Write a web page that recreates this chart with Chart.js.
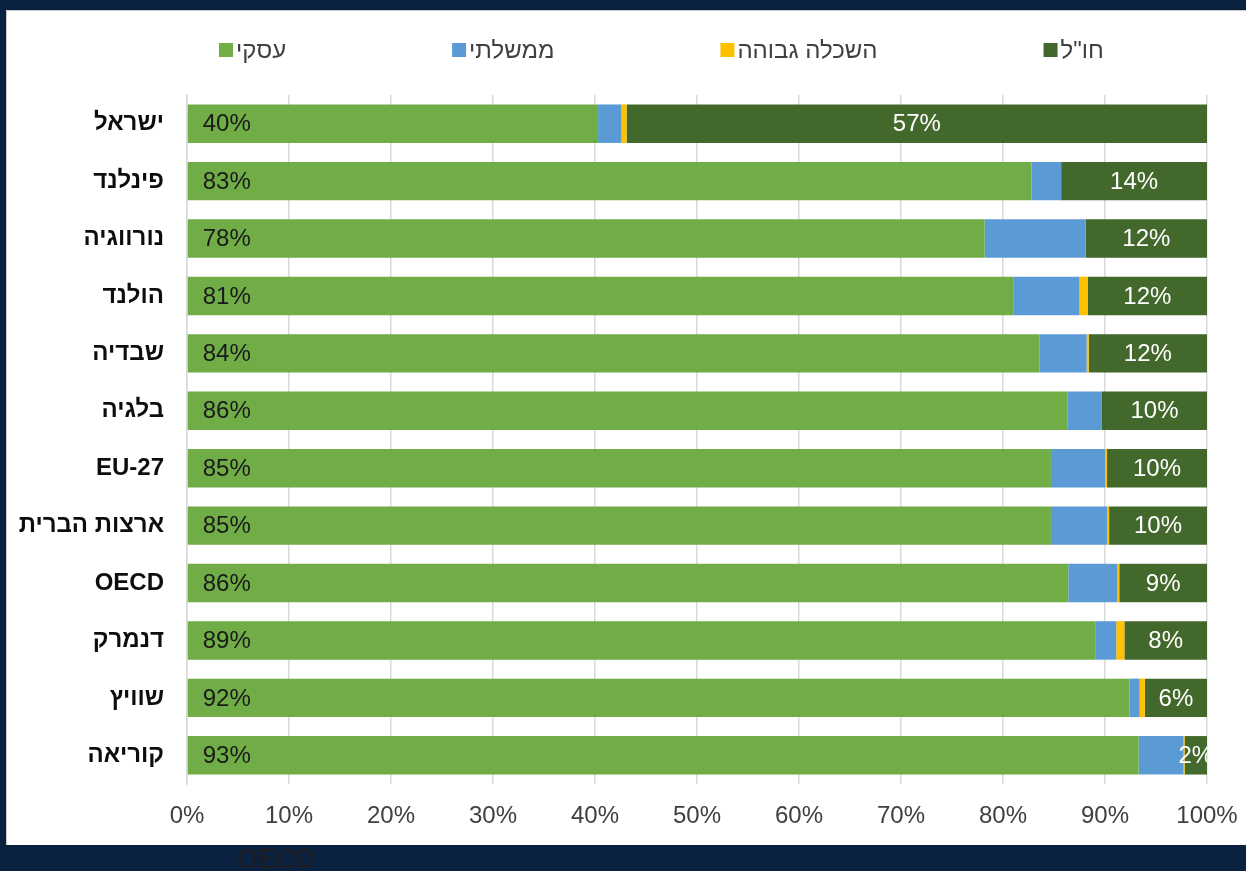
<!DOCTYPE html>
<html lang="he">
<head>
<meta charset="utf-8">
<script src="https://cdn.jsdelivr.net/npm/chart.js@4"></script>
<style>
  html, body { margin:0; padding:0; background:#0b2140; width:1246px; height:871px; overflow:hidden; }
  #panel { position:absolute; left:6px; top:10px; width:1240px; height:835px; background:#ffffff; box-shadow: inset 1px 1px 0 #c9c9c9; }
  #c { position:absolute; left:0; top:0; }
  #stray { position:absolute; left:237px; top:846px; font: 27px/27px "Liberation Sans", Arial, sans-serif; color:#1c1c1c; }
</style>
</head>
<body>
<div id="panel"><canvas id="c" width="1240" height="835" style="width:1240px;height:835px"></canvas></div>
<div id="stray">OECD</div>
<script>
const categories = ['ישראל','פינלנד','נורווגיה','הולנד','שבדיה','בלגיה','EU-27','ארצות הברית','OECD','דנמרק','שוויץ','קוריאה'];
const seriesNames = ['עסקי','ממשלתי','השכלה גבוהה','חו"ל'];
const business   = [40.3, 82.8, 78.2, 81.0, 83.6, 86.3, 84.7, 84.7, 86.4, 89.1, 92.4, 93.3];
const government = [2.3, 2.9, 9.9, 6.5, 4.6, 3.4, 5.3, 5.5, 4.8, 2.0, 1.0, 4.4];
const higherEd   = [0.5, 0, 0, 0.8, 0.2, 0, 0.2, 0.2, 0.2, 0.8, 0.5, 0.1];
const abroad     = [56.9, 14.3, 11.9, 11.7, 11.6, 10.3, 9.8, 9.6, 8.6, 8.1, 6.1, 2.2];
const tickLabels = ['0%','10%','20%','30%','40%','50%','60%','70%','80%','90%','100%'];
const colors = ['#70ad47','#5b9bd5','#ffc000','#43682b'];

const FONT = '"Liberation Sans", Arial, sans-serif';

const legendPlugin = {
  id: 'customLegend',
  afterDraw(chart) {
    const ctx = chart.ctx;
    ctx.save();
    ctx.font = '24px ' + FONT;
    ctx.textBaseline = 'middle';
    ctx.textAlign = 'left';
    const box = 14, gapBox = 3, gapItem = 166, y = 40;
    let x = 213;
    chart.data.datasets.forEach(ds => {
      ctx.fillStyle = ds.backgroundColor;
      ctx.fillRect(x, y - box / 2, box, box);
      x += box + gapBox;
      ctx.fillStyle = '#404040';
      ctx.fillText(ds.label, x, y + 1);
      x += ctx.measureText(ds.label).width + gapItem;
    });
    ctx.restore();
  }
};

const labelPlugin = {
  id: 'segLabels',
  afterDatasetsDraw(chart) {
    const ctx = chart.ctx;
    const area = chart.chartArea;
    ctx.save();
    ctx.beginPath();
    ctx.rect(area.left, area.top, area.right - area.left, area.bottom - area.top);
    ctx.clip();
    ctx.textBaseline = 'middle';
    const m0 = chart.getDatasetMeta(0);
    m0.data.forEach((el, i) => {
      ctx.font = '24px ' + FONT;
      ctx.fillStyle = '#1a1a1a';
      ctx.textAlign = 'left';
      ctx.fillText(Math.round(chart.data.datasets[0].data[i]) + '%', el.base + 15, el.y + 1);
    });
    const m3 = chart.getDatasetMeta(3);
    m3.data.forEach((el, i) => {
      ctx.font = '24px ' + FONT;
      ctx.fillStyle = '#ffffff';
      ctx.textAlign = 'center';
      ctx.fillText(Math.round(chart.data.datasets[3].data[i]) + '%', (el.base + el.x) / 2, el.y + 1);
    });
    ctx.restore();
  }
};

const seriesData = [business, government, higherEd, abroad];

new Chart(document.getElementById('c'), {
  type: 'bar',
  data: {
    labels: categories,
    datasets: seriesNames.map((name, k) => ({
      label: name,
      data: seriesData[k],
      backgroundColor: colors[k],
      borderWidth: 0,
      categoryPercentage: 1,
      barPercentage: 0.67
    }))
  },
  options: {
    indexAxis: 'y',
    responsive: false,
    animation: false,
    layout: { padding: { left: 0, right: 39, top: 85, bottom: 0 } },
    plugins: { legend: { display: false }, tooltip: { enabled: false } },
    scales: {
      x: {
        stacked: true,
        min: 0, max: 100,
        ticks: {
          stepSize: 10,
          padding: 18,
          color: '#404040',
          font: { family: FONT, size: 24 },
          callback: (v, i) => tickLabels[i]
        },
        grid: { color: '#d9d9d9', lineWidth: 1.5, drawTicks: false },
        border: { display: false },
        afterFit(scale) { scale.height = 61; scale.paddingRight = 0; scale.paddingLeft = 0; }
      },
      y: {
        stacked: true,
        ticks: {
          padding: 23,
          color: '#0d0d0d',
          font: { family: FONT, size: 24, weight: 'bold' }
        },
        grid: { display: false, drawTicks: false },
        border: { display: true, color: '#d9d9d9', width: 1.5 },
        afterFit(scale) { scale.width = 181; }
      }
    }
  },
  plugins: [legendPlugin, labelPlugin]
});
</script>
</body>
</html>
